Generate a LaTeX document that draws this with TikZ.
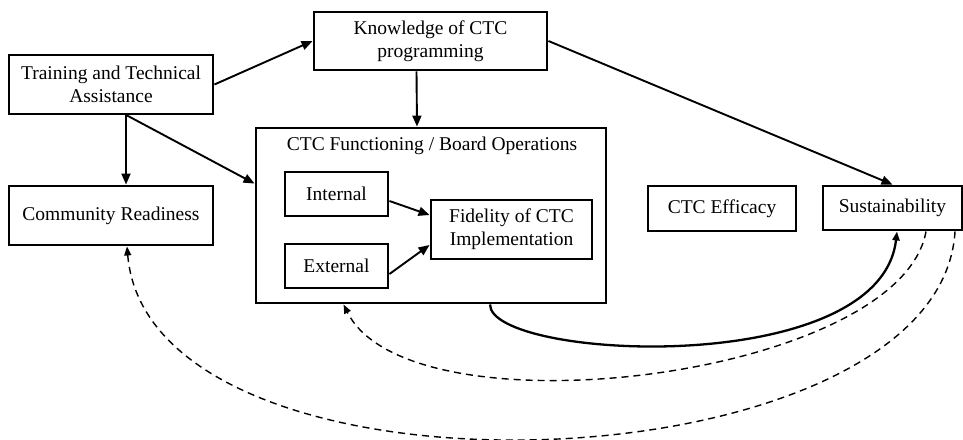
\documentclass[tikz,border=0pt]{standalone}
\usepackage{fontspec}
\setmainfont{Liberation Serif}
\usetikzlibrary{arrows.meta}
\begin{document}
\begin{tikzpicture}[x=1pt,y=-1pt,
  box/.style={draw,line width=2.9pt,align=center,inner sep=0pt,
    font=\fontsize{19.5}{23}\selectfont},
  link/.style={line width=1.9pt,-{Triangle[length=11pt,width=9pt]}},
  feedback/.style={line width=1.4pt,dashed,dash pattern=on 7pt off 5pt,
    -{Triangle[length=9pt,width=7pt]}},
  loopback/.style={line width=2.3pt,-{Triangle[length=9pt,width=7pt]}}]
\useasboundingbox (0,0) rectangle (963,439);

% outer frame for board functioning
\node[box,minimum width=350pt,minimum height=175pt] (ctc) at (431,215.5) {};
\node[font=\fontsize{19.5}{23}\selectfont] (ctctitle) at (432,146) {CTC Functioning / Board Operations};

% boxes
\node[box,minimum width=204pt,minimum height=59pt] (train) at (111,84.5) {Training and Technical\\Assistance};
\node[box,minimum width=233pt,minimum height=58pt] (know) at (430.5,41) {Knowledge of CTC\\programming};
\node[box,minimum width=204pt,minimum height=59pt] (comm) at (111,215.5) {Community Readiness};
\node[box,minimum width=103pt,minimum height=44pt] (int) at (336.5,194) {Internal};
\node[box,minimum width=103pt,minimum height=44pt] (ext) at (336.5,266) {External};
\node[box,minimum width=161pt,minimum height=59pt] (fid) at (511.5,229.5) {Fidelity of CTC\\Implementation};
\node[box,minimum width=148pt,minimum height=45pt] (eff) at (722,208.5) {CTC Efficacy};
\node[box,minimum width=139pt,minimum height=44pt] (sust) at (892.5,208) {Sustainability};

% direct influences
\draw[link] (train.east) -- (know.west);
\draw[link] ([xshift=15pt]train.south) -- ([xshift=15pt]comm.north);
\draw[link] ([xshift=16pt]train.south) -- ([yshift=-57pt]ctc.north west);
\draw[link] ([xshift=-14pt]know.south) -- ([xshift=-14pt]ctc.north);
\draw[link] (know.east) -- (sust.north);
\draw[link] ([yshift=-7pt]int.east) -- ([yshift=14.5pt]fid.west);
\draw[link] ([yshift=-8pt]ext.east) -- ([yshift=-15.5pt]fid.west);

% functioning feeds sustainability
\draw[loopback] ([xshift=59pt]ctc.south) .. controls (490,360) and (880,380) .. ([xshift=4.5pt]sust.south);

% feedback from sustainability
\draw[feedback] ([xshift=33.5pt]sust.south) .. controls (900,378) and (410,438) .. ([xshift=89pt]ctc.south west);
\draw[feedback] ([xshift=62.5pt]sust.south) .. controls (940,490) and (150,520) .. ([xshift=16pt]comm.south);
\end{tikzpicture}
\end{document}
